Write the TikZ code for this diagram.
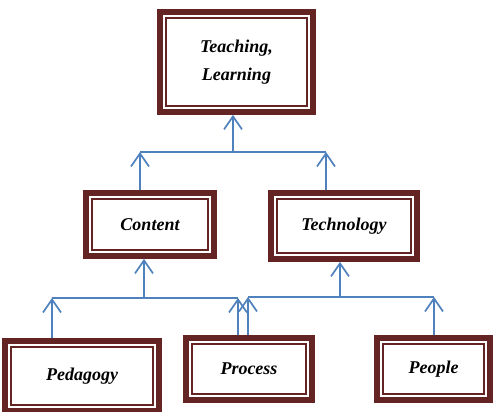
\documentclass[tikz,border=0pt]{standalone}
\usepackage{fontspec}
\setmainfont{Liberation Serif}
\usetikzlibrary{arrows.meta}
\definecolor{boxred}{RGB}{99,36,35}
\definecolor{linkblue}{RGB}{79,129,189}
\tikzset{
  frame/.style={draw=boxred,line width=1.8pt,line join=miter,inner sep=0pt,outer sep=8.9pt,
    preaction={draw=boxred,line join=miter,line width=17.8pt},
    preaction={fill=white},
    preaction={draw=white,line join=miter,line width=5.8pt}},
  link/.style={draw=linkblue,line width=1.7pt}
}
\begin{document}
\begin{tikzpicture}[x=1pt,y=-1pt,line join = round,>={Straight Barb[length=13pt,width=18pt]},font=\bfseries\itshape\fontsize{18}{28}\selectfont]
				\useasboundingbox (0,0) rectangle (493,412);
				\node[frame,minimum width=141pt,minimum height=88pt,align=center] (teach) at (236.5,62) {Teaching,\\Learning};
				\node[frame,minimum width=116pt,minimum height=51pt] (content) at (150,224.5) {Content};
				\node[frame,minimum width=134pt,minimum height=54pt] (tech) at (344,226) {Technology};
				\node[frame,minimum width=142pt,minimum height=58pt] (ped) at (82,376) {Pedagogy};
				\node[frame,minimum width=114pt,minimum height=50pt] (proc) at (249,369) {Process};
				\node[frame,minimum width=101pt,minimum height=50pt] (people) at (433.5,369) {People};
				\path 
				(233,152) coordinate (busT)
				(140,152) coordinate (busTL)
				(326,152) coordinate (busTR)
				(144,298) coordinate (busC)
				(52,298) coordinate (busCL)
				(238,298) coordinate (busCR)
				(340,297) coordinate (busE)
				(248,297) coordinate (busEL)
				(434,297) coordinate (busER)
				;
				\foreach \l/\r in {busTL/busTR,busCL/busCR,busEL/busER} \draw[link] (\l) -- (\r);
				\foreach \a/\b in {busT/teach,busC/content,busE/tech} \draw[link,->] (\a) -- (\b.south -| \a);
				\foreach \n/\b in {content/busTL,tech/busTR,ped/busCL,proc/busCR,proc/busEL,people/busER} \draw[link,->] (\n.north -| \b) -- (\b);
			\end{tikzpicture}
\end{document}
